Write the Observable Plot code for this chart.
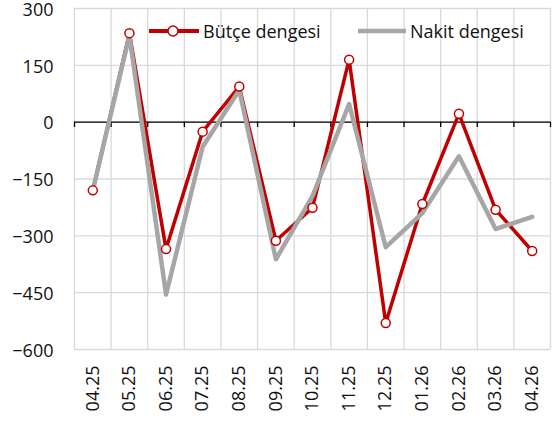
<!DOCTYPE html>
<html><head><meta charset="utf-8">
<script src="https://cdn.jsdelivr.net/npm/d3@7"></script>
<script src="https://cdn.jsdelivr.net/npm/@observablehq/plot@0.6"></script>
<style>
html,body{margin:0;padding:0;background:#fff;}
#wrap{position:relative;width:559px;height:428px;font-family:"Open Sans",sans-serif;}
.leg{position:absolute;top:19px;height:24px;font-size:18px;line-height:24px;color:#111;display:flex;align-items:center;white-space:nowrap;}
.leg svg{margin-right:3px;}
</style></head>
<body><div id="wrap"></div>
<script>
const months = ["04.25","05.25","06.25","07.25","08.25","09.25","10.25","11.25","12.25","01.26","02.26","03.26","04.26"];
const budget = [-180, 235, -335, -25, 94, -313, -226, 165, -530, -216, 22, -231, -340];
const cash   = [-180, 228, -455, -65, 85, -362, -195, 48, -330, -240, -90, -282, -250];
const yTicks = [-600, -450, -300, -150, 0, 150, 300];
const seriesNames = ["Bütçe dengesi", "Nakit dengesi"];

const rows = months.map((m, i) => ({i, m, budget: budget[i], cash: cash[i]}));
const bounds = d3.range(-0.5, months.length, 1);

const chart = Plot.plot({
  width: 559, height: 428,
  marginLeft: 74, marginRight: 9, marginTop: 8, marginBottom: 79,
  style: {fontFamily: "'Open Sans', sans-serif", fontSize: "18px", color: "#111", background: "#fff"},
  x: {type: "linear", domain: [-0.5, months.length - 0.5], label: null},
  y: {domain: [-600, 300], label: null},
  marks: [
    Plot.ruleY(yTicks, {stroke: "#d9d9d9", strokeWidth: 1.3}),
    Plot.ruleX(bounds, {stroke: "#d9d9d9", strokeWidth: 1.3}),
    Plot.ruleY([0], {stroke: "#000", strokeWidth: 1.3}),
    Plot.ruleX(bounds, {y1: 0, y2: -14, stroke: "#000", strokeWidth: 1.3}),
    Plot.axisX(d3.range(months.length), {tickFormat: i => months[i], tickRotate: -90, tickSize: 0, tickPadding: 16, label: null}),
    Plot.axisY(yTicks, {tickSize: 0, tickPadding: 21, dy: 1.5, label: null}),
    Plot.line(rows, {x: "i", y: "budget", stroke: "#C00000", strokeWidth: 3.5}),
    Plot.line(rows, {x: "i", y: "cash", stroke: "#A6A6A6", strokeWidth: 4.5}),
    Plot.dot(rows, {x: "i", y: "budget", r: 4.5, fill: "#fff", stroke: "#C00000", strokeWidth: 1.5})
  ]
});
const wrap = document.getElementById("wrap");
wrap.appendChild(chart);

const leg1 = document.createElement("div");
leg1.className = "leg"; leg1.style.left = "148px";
leg1.innerHTML = `<svg width="52" height="14"><line x1="1" y1="7" x2="51" y2="7" stroke="#C00000" stroke-width="4"/><circle cx="25" cy="7" r="5" fill="#fff" stroke="#C00000" stroke-width="1.5"/></svg><span>${seriesNames[0]}</span>`;
const leg2 = document.createElement("div");
leg2.className = "leg"; leg2.style.left = "357px";
leg2.innerHTML = `<svg width="50" height="14"><line x1="1" y1="7" x2="49" y2="7" stroke="#A6A6A6" stroke-width="4.5"/></svg><span>${seriesNames[1]}</span>`;
wrap.appendChild(leg1); wrap.appendChild(leg2);
</script></body></html>
